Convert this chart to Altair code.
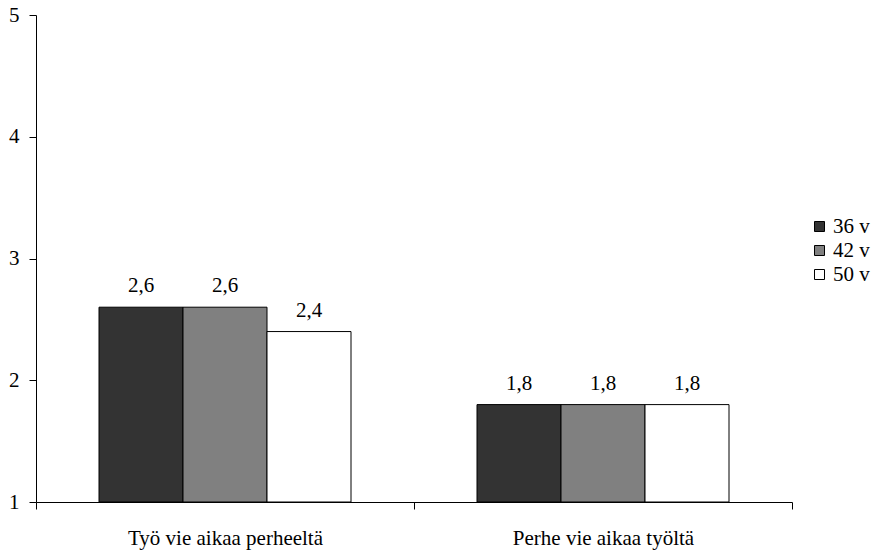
import altair as alt
import pandas as pd

categories = ["Työ vie aikaa perheeltä", "Perhe vie aikaa työltä"]
series = ["36 v", "42 v", "50 v"]
values = {
    "36 v": [2.6, 1.8],
    "42 v": [2.6, 1.8],
    "50 v": [2.4, 1.8],
}
colors = ["#333333", "#808080", "#ffffff"]

rows = []
for s in series:
    for c, v in zip(categories, values[s]):
        rows.append({"kategoria": c, "ikä": s, "arvo": v})
df = pd.DataFrame(rows)

FONT = "'Times New Roman', 'Liberation Serif', serif"
FS = 21

x_enc = alt.X(
    "kategoria:N",
    sort=categories,
    title=None,
    scale=alt.Scale(paddingInner=0, paddingOuter=0),
    axis=alt.Axis(
        labelAngle=0,
        labelLimit=0,
        tickBand="extent",
        tickSize=7,
        labelPadding=18,
        labelFontSize=FS,
        labelFont=FONT,
        labelColor="black",
        domainColor="black",
        tickColor="black",
    ),
)
xoff = alt.XOffset(
    "ikä:N", sort=series, scale=alt.Scale(paddingInner=0, paddingOuter=0.75)
)

bars = alt.Chart(df).mark_bar(stroke="black", strokeWidth=1).encode(
    x=x_enc,
    xOffset=xoff,
    y=alt.Y(
        "arvo:Q",
        title=None,
        scale=alt.Scale(domain=[1, 5], nice=False, zero=False),
        axis=alt.Axis(
            values=[1, 2, 3, 4, 5],
            format="d",
            grid=False,
            tickSize=7,
            labelPadding=10,
            labelFontSize=FS,
            labelFont=FONT,
            labelColor="black",
            domainColor="black",
            tickColor="black",
        ),
    ),
    y2=alt.datum(1),
    fill=alt.Fill(
        "ikä:N",
        sort=series,
        scale=alt.Scale(domain=series, range=colors),
        legend=alt.Legend(
            title=None,
            orient="none",
            legendX=773,
            legendY=201,
            symbolType="square",
            symbolSize=100,
            symbolStrokeColor="black",
            symbolStrokeWidth=1,
            labelFontSize=FS,
            labelFont=FONT,
            labelColor="black",
            labelOffset=3,
            rowPadding=2,
        ),
    ),
)

labels = alt.Chart(df).transform_calculate(
    teksti="replace(format(datum.arvo, '.1f'), '.', ',')"
).mark_text(baseline="alphabetic", dy=-15, fontSize=FS, font=FONT, color="black").encode(
    x=alt.X("kategoria:N", sort=categories),
    xOffset=xoff,
    y="arvo:Q",
    text="teksti:N",
)

chart = (
    alt.layer(bars, labels)
    .properties(
        width=756,
        height=487,
        padding={"left": 36, "top": 15, "right": 83, "bottom": 49},
        autosize=alt.AutoSizeParams(type="none"),
        background="white",
    )
    .configure_view(stroke=None)
)

chart.save("out.html", embed_options={"renderer": "svg", "actions": False})
